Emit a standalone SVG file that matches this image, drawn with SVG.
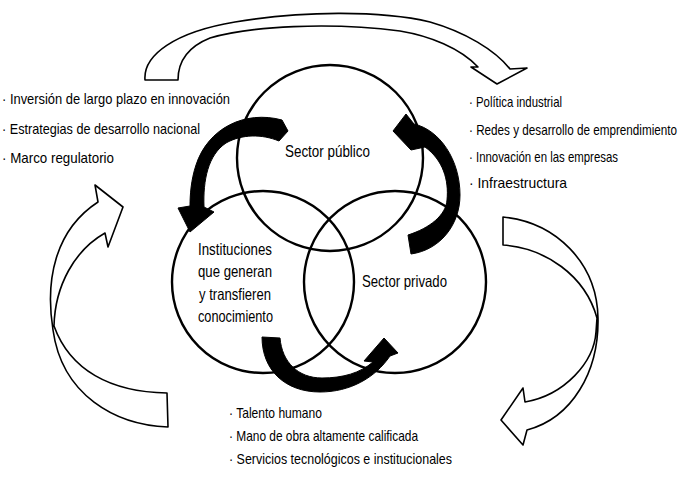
<svg xmlns="http://www.w3.org/2000/svg" width="684" height="479" viewBox="0 0 684 479">
<style>
.c{fill:none;stroke:#000;stroke-width:2.4}
.lbl{font-family:"Liberation Sans",Arial,sans-serif;font-size:16.5px;fill:#000}
.lst{font-family:"Liberation Sans",Arial,sans-serif;font-size:14.5px;fill:#000}
.blk{fill:#000;stroke:#000;stroke-width:1;stroke-linejoin:round}
.wht{fill:#fff;stroke:#000;stroke-width:1.6;stroke-linejoin:round}
</style>
<rect width="684" height="479" fill="#fff"/>
<g id="connectors">
<path class="wht" d="M145,80 C143,55 175,32 235,22 C300,11 380,10 430,22 C465,32 495,50 510,69 L527,68 L497,84 L471,67 L478,67 C460,48 430,36 400,31 C330,22 250,26 210,38 C190,46 178,60 178,80 Z"/>
<path class="wht" d="M503,217 C555,222 597,262 598,318 C599,372 572,418 527,430 L523,445 L501,420 L523,388 L525,402 C565,395 594,362 596,332 L597,318 C585,275 545,248 503,245 Z"/>
<path class="wht" d="M168,427 C115,425 62,395 53,330 C45,280 55,230 98,202 L95,185 L123,207 L108,247 L105,233 C75,250 55,285 54,326 C70,370 110,392 167,393 Z"/>
</g>
<g id="sector-publico">
<circle class="c" cx="330" cy="158" r="93"/>
<text class="lbl" x="285" y="157" textLength="85" lengthAdjust="spacingAndGlyphs">Sector público</text>
</g>
<g id="instituciones">
<circle class="c" cx="263" cy="282" r="91"/>
<text class="lbl" x="198" y="255" textLength="74" lengthAdjust="spacingAndGlyphs">Instituciones</text>
<text class="lbl" x="198" y="277" textLength="74" lengthAdjust="spacingAndGlyphs">que generan</text>
<text class="lbl" x="199" y="300" textLength="72" lengthAdjust="spacingAndGlyphs">y transfieren</text>
<text class="lbl" x="198" y="322" textLength="75" lengthAdjust="spacingAndGlyphs">conocimiento</text>
</g>
<g id="sector-privado">
<circle class="c" cx="395" cy="282" r="91"/>
<text class="lbl" x="362" y="287" textLength="85" lengthAdjust="spacingAndGlyphs">Sector privado</text>
</g>
<g id="flows">
<path class="blk" d="M282,120 C245,110 208,128 196,165 C191,180 190,195 190,206 L178,208 L190,232 L214,212 L204,207 C203,180 208,155 226,143 C242,134 262,134 279,141 L288,131 Z"/>
<path class="blk" d="M408,235 C430,228 446,215 447,200 C449,180 443,160 425,147 L411,150 L393,131 L406,114 L414,124 C440,130 460,160 460,195 C460,225 440,250 411,254 Z"/>
<path class="blk" d="M262,337 C262,370 285,392 320,392 C350,392 375,378 390,356 L398,353 L384,338 L364,361 L373,362 C360,373 343,378 322,378 C298,378 282,362 280,338 Z"/>
</g>
<g id="list-left">
<text class="lst" x="2" y="104" textLength="228" lengthAdjust="spacingAndGlyphs">· Inversión de largo plazo en innovación</text>
<text class="lst" x="2" y="134" textLength="198" lengthAdjust="spacingAndGlyphs">· Estrategias de desarrollo nacional</text>
<text class="lst" x="2" y="163" textLength="112" lengthAdjust="spacingAndGlyphs">· Marco regulatorio</text>
</g>
<g id="list-right">
<text class="lst" x="469" y="107" textLength="93" lengthAdjust="spacingAndGlyphs">· Política industrial</text>
<text class="lst" transform="translate(469,135) scale(0.8,1)" x="0" y="0" textLength="260" lengthAdjust="spacingAndGlyphs">· Redes y desarrollo de emprendimiento</text>
<text class="lst" x="469" y="162" textLength="149" lengthAdjust="spacingAndGlyphs">· Innovación en las empresas</text>
<text class="lst" x="469" y="188" textLength="98" lengthAdjust="spacingAndGlyphs">· Infraestructura</text>
</g>
<g id="list-bottom">
<text class="lst" x="229" y="418" textLength="93" lengthAdjust="spacingAndGlyphs">· Talento humano</text>
<text class="lst" x="229" y="441" textLength="189" lengthAdjust="spacingAndGlyphs">· Mano de obra altamente calificada</text>
<text class="lst" x="229" y="464" textLength="223" lengthAdjust="spacingAndGlyphs">· Servicios tecnológicos e institucionales</text>
</g>
</svg>
